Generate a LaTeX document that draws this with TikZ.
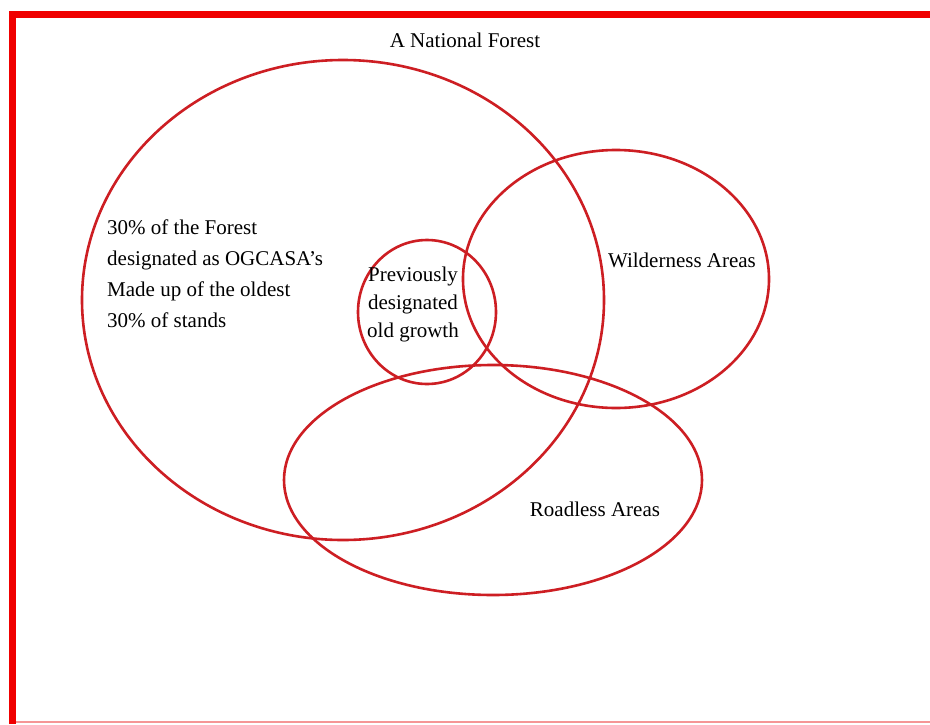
\documentclass[tikz,border=0pt]{standalone}
\usepackage{fontspec}
\setmainfont{Liberation Serif}
\usetikzlibrary{shapes.geometric}
\definecolor{ellred}{RGB}{205,30,35}
\definecolor{bordred}{RGB}{240,0,0}
\definecolor{faintred}{RGB}{245,150,150}
\begin{document}
\begin{tikzpicture}[x=1pt,y=-1pt,
  ell/.style={draw=ellred,line width=2.6pt,ellipse,inner sep=0pt},
  lbl/.style={font=\fontsize{21}{31}\selectfont,inner sep=0pt}]
\useasboundingbox (0,0) rectangle (930,724);
\fill[white] (0,0) rectangle (930,724);
% border
\draw[faintred,line width=1.5pt] (12,722) -- (930,722);
\draw[bordred,line width=7pt] (12,724) -- (12,14.5) -- (930,14.5);
% ellipses
\node[ell,minimum width=522pt,minimum height=480pt] (forest) at (343,300) {};
\node[ell,minimum width=306pt,minimum height=258pt] (wild) at (616,279) {};
\node[ell,minimum width=138pt,minimum height=144pt] (old) at (427,312) {};
\node[ell,minimum width=418pt,minimum height=230pt] (road) at (493,480) {};
% labels
\node[lbl] (title) at (465,40) {A National Forest};
\node[lbl,anchor=west,align=left] (ogc) at (107,274) {30\% of the Forest\\designated as OGCASA's\\Made up of the oldest\\30\% of stands};
\node[lbl,align=center,font=\fontsize{21}{28}\selectfont] (prev) at (413,304) {Previously\\designated\\old growth};
\node[lbl] (wl) at (682,260) {Wilderness Areas};
\node[lbl] (rl) at (595,509) {Roadless Areas};
\end{tikzpicture}
\end{document}
